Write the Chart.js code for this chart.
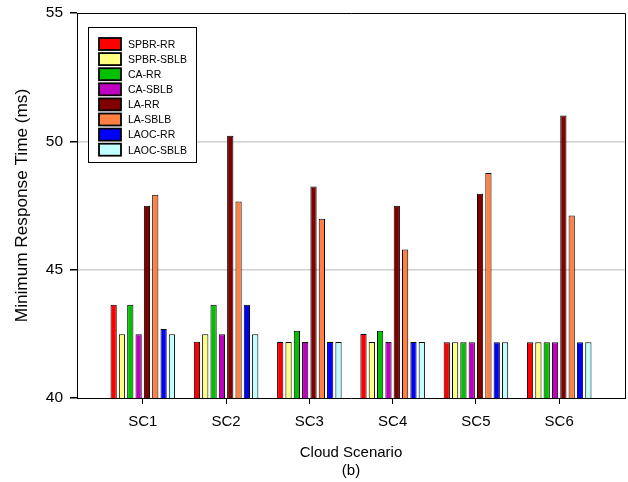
<!DOCTYPE html>
<html>
<head>
<meta charset="utf-8">
<script src="https://cdn.jsdelivr.net/npm/chart.js@4/dist/chart.umd.min.js"></script>
<style>
  html, body { margin: 0; padding: 0; background: #fff; }
  #wrap { width: 628px; height: 482px; }
</style>
</head>
<body>
<div id="wrap"><canvas id="c" width="628" height="482"></canvas></div>
<script>
// Scenarios on the x axis
const scenarios = ['SC1', 'SC2', 'SC3', 'SC4', 'SC5', 'SC6'];

// Minimum response time (ms) per algorithm and scenario
const spbrRR   = [43.63, 42.19, 42.18, 42.49, 42.17, 42.17];
const spbrSBLB = [42.48, 42.48, 42.18, 42.18, 42.17, 42.17];
const caRR     = [43.63, 43.63, 42.62, 42.62, 42.17, 42.17];
const caSBLB   = [42.48, 42.48, 42.18, 42.18, 42.17, 42.17];
const laRR     = [47.49, 50.22, 48.24, 47.49, 47.96, 51.01];
const laSBLB   = [47.92, 47.66, 46.98, 45.79, 48.77, 47.11];
const laocRR   = [42.69, 43.63, 42.18, 42.18, 42.17, 42.17];
const laocSBLB = [42.48, 42.48, 42.18, 42.18, 42.17, 42.17];

// Y axis tick values
const yTicks = [40, 45, 50, 55];

const seriesNames  = ['SPBR-RR', 'SPBR-SBLB', 'CA-RR', 'CA-SBLB', 'LA-RR', 'LA-SBLB', 'LAOC-RR', 'LAOC-SBLB'];
const seriesValues = [spbrRR, spbrSBLB, caRR, caSBLB, laRR, laSBLB, laocRR, laocSBLB];
const seriesColors = ['#ff0000', '#ffff80', '#00c000', '#c000c0', '#800000', '#ff8040', '#0000ff', '#c0ffff'];

const FONT = '"Liberation Sans", Arial, sans-serif';

const datasets = seriesNames.map((name, i) => ({
  label: name,
  data: seriesValues[i].map((v, j) => ({ x: j + 1, y: v })),
  backgroundColor: seriesColors[i],
  borderColor: '#000',
  borderWidth: 1,
  borderSkipped: false,
  categoryPercentage: 0.8,
  barPercentage: 0.75
}));

// Frame, axis titles and the inset legend
const decorations = {
  id: 'decorations',
  afterDraw(chart) {
    const ctx = chart.ctx;
    const a = chart.chartArea;
    ctx.save();

    // top and right frame lines
    ctx.strokeStyle = '#000';
    ctx.lineWidth = 1;
    ctx.beginPath();
    ctx.moveTo(a.left, a.top + 0.5);
    ctx.lineTo(a.right + 0.5, a.top + 0.5);
    ctx.lineTo(a.right + 0.5, a.bottom);
    ctx.stroke();

    // axis titles
    ctx.fillStyle = '#000';
    ctx.textAlign = 'center';
    ctx.textBaseline = 'middle';
    ctx.font = '15px ' + FONT;
    const cx = (a.left + a.right) / 2;
    ctx.fillText('Cloud Scenario', cx, 453);
    ctx.fillText('(b)', cx, 471);

    ctx.save();
    ctx.translate(22, (a.top + a.bottom) / 2);
    ctx.rotate(-Math.PI / 2);
    ctx.font = '17.2px ' + FONT;
    ctx.fillText('Minimum Response Time (ms)', 0, 0);
    ctx.restore();

    // legend box
    const lx = 88, ly = 27, lw = 108, lh = 135;
    ctx.fillStyle = '#fff';
    ctx.fillRect(lx, ly, lw, lh);
    ctx.strokeStyle = '#000';
    ctx.lineWidth = 1;
    ctx.strokeRect(lx + 0.5, ly + 0.5, lw, lh);

    ctx.font = '10.5px ' + FONT;
    ctx.textAlign = 'left';
    ctx.textBaseline = 'middle';
    chart.data.datasets.forEach((ds, i) => {
      const sy = 38 + i * 15.1;
      ctx.fillStyle = ds.backgroundColor;
      ctx.fillRect(99, sy, 22, 12);
      ctx.strokeStyle = '#000';
      ctx.lineWidth = 1.8;
      ctx.strokeRect(99, sy, 22, 12);
      ctx.fillStyle = '#000';
      ctx.fillText(ds.label, 128, sy + 7);
    });

    ctx.restore();
  }
};

new Chart(document.getElementById('c'), {
  type: 'bar',
  data: { datasets },
  options: {
    responsive: false,
    devicePixelRatio: 1,
    animation: false,
    layout: { padding: { left: 0, top: 13, right: 3, bottom: 0 } },
    plugins: {
      legend: { display: false },
      tooltip: { enabled: false }
    },
    scales: {
      x: {
        type: 'linear',
        min: 0.21,
        max: 6.79,
        offset: false,
        afterBuildTicks(scale) {
          scale.ticks = scenarios.map((_, i) => ({ value: i + 1 }));
        },
        afterFit(scale) {
          scale.height = 84;
          scale.paddingLeft = 0;
          scale.paddingRight = 0;
        },
        ticks: {
          autoSkip: false,
          maxRotation: 0,
          padding: 9,
          color: '#000',
          font: { family: FONT, size: 15 },
          callback: (v) => scenarios[Math.round(v) - 1] || ''
        },
        grid: {
          offset: false,
          drawOnChartArea: false,
          drawTicks: true,
          tickLength: 6,
          tickColor: '#000'
        },
        border: { display: true, color: '#000', width: 1 }
      },
      y: {
        min: 40,
        max: 55,
        afterBuildTicks(scale) {
          scale.ticks = yTicks.map(v => ({ value: v }));
        },
        afterFit(scale) {
          scale.width = 77;
          scale.paddingTop = 0;
          scale.paddingBottom = 0;
        },
        ticks: {
          padding: 7,
          color: '#000',
          font: { family: FONT, size: 15.5 }
        },
        grid: {
          color: (c) => (c.tick && (c.tick.value === 45 || c.tick.value === 50)) ? '#d0d0d0' : 'rgba(0,0,0,0)',
          lineWidth: 1.5,
          drawTicks: true,
          tickLength: 7,
          tickColor: '#000'
        },
        border: { display: true, color: '#000', width: 1 }
      }
    }
  },
  plugins: [decorations]
});
</script>
</body>
</html>
